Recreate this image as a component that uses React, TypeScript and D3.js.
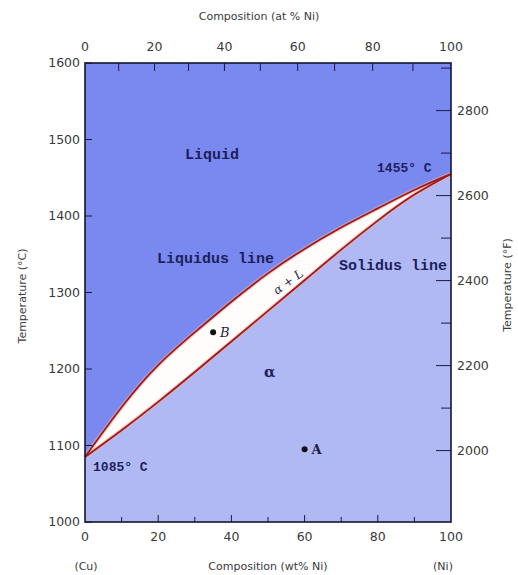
import React from 'react'
import * as d3 from 'd3'

// liquidus and solidus, wt% Ni vs temperature (deg C)
const liquidusWt = [0, 10, 20, 30, 40, 50, 60, 70, 80, 90, 100]
const liquidusT = [1085, 1150, 1205, 1248, 1288, 1325, 1357, 1385, 1410, 1434, 1455]
const solidusWt = [0, 10, 20, 30, 40, 50, 60, 70, 80, 90, 100]
const solidusT = [1085, 1120, 1157, 1196, 1236, 1276, 1316, 1356, 1394, 1428, 1455]

const wtTicks = [0, 10, 20, 30, 40, 50, 60, 70, 80, 90, 100]
const wtLabels = [0, 20, 40, 60, 80, 100]
const atTicks = [0, 10, 20, 30, 40, 50, 60, 70, 80, 90, 100]
const atTickWt = [0, 9.2, 19.0, 28.3, 38.1, 47.9, 58.1, 68.2, 78.6, 89.6, 100]
const cTicks = [1000, 1100, 1200, 1300, 1400, 1500, 1600]
const fTicks = [2000, 2100, 2200, 2300, 2400, 2500, 2600, 2700, 2800, 2900]
const fLabels = [2000, 2200, 2400, 2600, 2800]

const points = [
  {name: 'B', wt: 35, t: 1248},
  {name: 'A', wt: 60, t: 1095}
]

const W = 518
const H = 575
const margin = {top: 63, right: 67, bottom: 53, left: 85}

export default function App() {
  const x = d3.scaleLinear().domain([0, 100]).range([margin.left, W - margin.right])
  const y = d3.scaleLinear().domain([1000, 1600]).range([H - margin.bottom, margin.top])
  const yF = d3.scaleLinear().domain([1832, 2912]).range([H - margin.bottom, margin.top])

  const liq = liquidusWt.map((w, i) => [w, liquidusT[i]] as [number, number])
  const sol = solidusWt.map((w, i) => [w, solidusT[i]] as [number, number])

  const line = d3
    .line<[number, number]>()
    .curve(d3.curveNatural)
    .x(d => x(d[0]))
    .y(d => y(d[1]))

  const liqPath = line(liq) as string
  const solPath = line(sol) as string
  const liquidArea = liqPath + `L${x(100)},${y(1600)}L${x(0)},${y(1600)}Z`
  // band between the two curves: liquidus left to right, solidus back
  const solBack = line(sol.slice().reverse()) as string
  const bandPath = liqPath + 'L' + solBack.slice(1) + 'Z'

  const x0 = x(0)
  const x1 = x(100)
  const y0 = y(1000)
  const y1 = y(1600)

  const axisFont = {fontFamily: 'DejaVu Sans, sans-serif', fill: '#3a3a3a'}
  const labelFont = {
    fontFamily: 'Liberation Mono, monospace',
    fontWeight: 'bold' as const,
    fill: '#1c1f5c'
  }

  return (
    <svg width={W} height={H} style={{position: 'absolute', left: 0, top: 0}}>
      <rect width={W} height={H} fill="#fff" />
      {/* regions */}
      <rect x={x0} y={y1} width={x1 - x0} height={y0 - y1} fill="#b1b9f5" />
      <path d={liquidArea} fill="#7a89ef" />
      <path d={bandPath} fill="#fffdfb" />
      <path d={liqPath} fill="none" stroke="#f0b0a0" strokeWidth={4} opacity={0.6} />
      <path d={solPath} fill="none" stroke="#f0b0a0" strokeWidth={4} opacity={0.6} />
      <path d={liqPath} fill="none" stroke="#9c1a1f" strokeWidth={1.8} />
      <path d={solPath} fill="none" stroke="#9c1a1f" strokeWidth={1.8} />

      {/* left ticks */}
      {cTicks.map(t => (
        <g key={'c' + t}>
          <line x1={x0} x2={x0 + 7} y1={y(t)} y2={y(t)} stroke="#1a1a40" strokeWidth={1} />
          <text x={x0 - 5} y={y(t)} dy="0.35em" textAnchor="end" fontSize={12.5} style={axisFont}>
            {t}
          </text>
        </g>
      ))}
      {/* right ticks (deg F) */}
      {fTicks.map(t => (
        <line
          key={'f' + t}
          x1={x1}
          x2={x1 - (fLabels.includes(t) ? 15 : 10)}
          y1={yF(t)}
          y2={yF(t)}
          stroke="#1a1a40"
          strokeWidth={1}
        />
      ))}
      {fLabels.map(t => (
        <text key={'fl' + t} x={x1 + 6} y={yF(t)} dy="0.35em" fontSize={12.5} style={axisFont}>
          {t}
        </text>
      ))}
      {/* bottom ticks (wt%) */}
      {wtTicks.slice(1, -1).map(t => (
        <line
          key={'w' + t}
          x1={x(t)}
          x2={x(t)}
          y1={y0}
          y2={y0 - (t % 20 === 0 ? 7 : 5)}
          stroke="#1a1a40"
          strokeWidth={1}
        />
      ))}
      {wtLabels.map(t => (
        <text key={'wl' + t} x={x(t)} y={y0 + 15} dy="0.35em" textAnchor="middle" fontSize={12.5} style={axisFont}>
          {t}
        </text>
      ))}
      {/* top ticks (at%) */}
      {atTicks.slice(1, -1).map((t, i) => (
        <line
          key={'a' + t}
          x1={x(atTickWt[i + 1])}
          x2={x(atTickWt[i + 1])}
          y1={y1}
          y2={y1 + 8}
          stroke="#1a1a40"
          strokeWidth={1}
        />
      ))}
      {atTicks.map((t, i) =>
        t % 20 === 0 ? (
          <text
            key={'al' + t}
            x={x(atTickWt[i])}
            y={y1 - 16}
            dy="0.35em"
            textAnchor="middle"
            fontSize={12.5}
            style={axisFont}
          >
            {t}
          </text>
        ) : null
      )}

      {/* frame */}
      <rect x={x0} y={y1} width={x1 - x0} height={y0 - y1} fill="none" stroke="#141433" strokeWidth={1.6} />

      {/* axis titles */}
      <text x={259} y={16} dy="0.35em" textAnchor="middle" fontSize={11} style={axisFont}>
        Composition  (at % Ni)
      </text>
      <text x={268} y={566} dy="0.35em" textAnchor="middle" fontSize={11} style={axisFont}>
        Composition (wt% Ni)
      </text>
      <text x={86} y={566} dy="0.35em" textAnchor="middle" fontSize={11} style={axisFont}>
        (Cu)
      </text>
      <text x={443} y={566} dy="0.35em" textAnchor="middle" fontSize={11} style={axisFont}>
        (Ni)
      </text>
      <text
        transform="translate(22,296) rotate(-90)"
        dy="0.35em"
        textAnchor="middle"
        fontSize={11}
        style={axisFont}
      >
        Temperature (°C)
      </text>
      <text
        transform="translate(507,285) rotate(-90)"
        dy="0.35em"
        textAnchor="middle"
        fontSize={11}
        style={axisFont}
      >
        Temperature (°F)
      </text>

      {/* region labels */}
      <text x={x(34.7)} y={y(1481)} dy="0.35em" textAnchor="middle" fontSize={15} style={labelFont}>
        Liquid
      </text>
      <text x={x(19.7)} y={y(1345)} dy="0.35em" fontSize={15} style={labelFont}>
        Liquidus line
      </text>
      <text x={x(69.4)} y={y(1336)} dy="0.35em" fontSize={15} style={labelFont}>
        Solidus line
      </text>
      <text x={x(79.8)} y={y(1463)} dy="0.35em" fontSize={13} style={labelFont}>
        1455° C
      </text>
      <text x={x(2.2)} y={y(1073)} dy="0.35em" fontSize={13} style={labelFont}>
        1085° C
      </text>
      <text
        x={x(50.5)}
        y={y(1196)}
        dy="0.35em"
        textAnchor="middle"
        fontSize={15}
        fontFamily="DejaVu Serif, serif"
        fontWeight="bold"
        fill="#1c1f5c"
      >
        α
      </text>
      <text
        transform={`translate(${x(55.5)},${y(1314)}) rotate(-36)`}
        dy="0.35em"
        textAnchor="middle"
        fontSize={12}
        fontFamily="DejaVu Serif, serif"
        fontStyle="italic"
        fill="#2a2a4a"
      >
        α + L
      </text>

      {/* points */}
      {points.map(p => (
        <g key={p.name}>
          <circle cx={x(p.wt)} cy={y(p.t)} r={3} fill="#111" />
          <text
            x={x(p.wt) + 7}
            y={y(p.t)}
            dy="0.35em"
            fontSize={13}
            fontFamily="DejaVu Serif, serif"
            fontStyle={p.name === 'B' ? 'italic' : 'normal'}
            fontWeight={p.name === 'A' ? 'bold' : 'normal'}
            fill="#1c1f3c"
          >
            {p.name}
          </text>
        </g>
      ))}
    </svg>
  )
}
